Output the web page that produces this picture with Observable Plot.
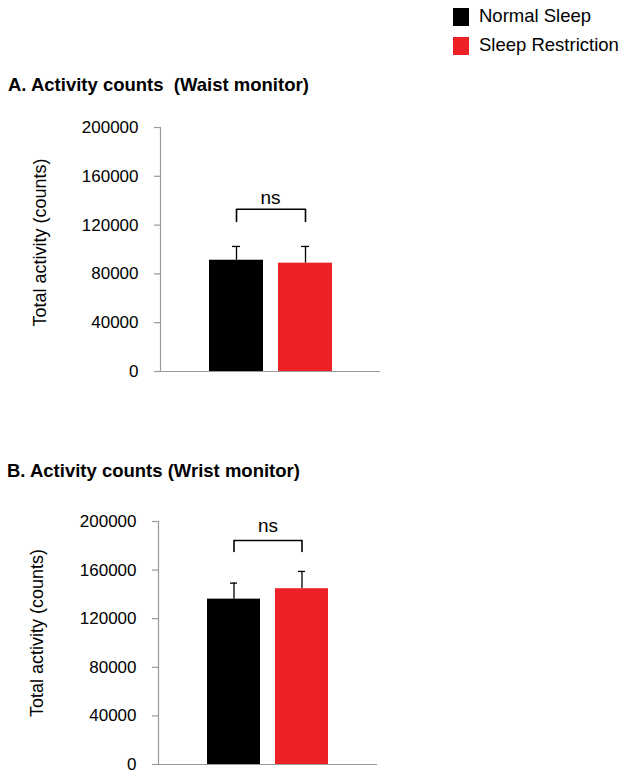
<!DOCTYPE html>
<html>
<head>
<meta charset="utf-8">
<script src="https://cdn.jsdelivr.net/npm/d3@7"></script>
<script src="https://cdn.jsdelivr.net/npm/@observablehq/plot@0.6"></script>
<style>
  html, body { margin: 0; padding: 0; background: #fff; }
  #page { position: relative; width: 624px; height: 781px; overflow: hidden; font-family: "Liberation Sans", Arial, sans-serif; color: #000; }
  .title { position: absolute; font-weight: bold; font-size: 18.5px; white-space: nowrap; line-height: 1; }
  .legend { position: absolute; left: 453px; top: 6px; }
  .legend .item { position: relative; height: 29px; font-size: 18.5px; white-space: nowrap; }
  .legend .sw { position: absolute; left: 0; top: 2px; width: 16px; height: 18px; }
  .legend .lab { position: absolute; left: 26px; top: 1px; line-height: 1; }
</style>
</head>
<body>
<div id="page"></div>
<script>
// ---- data ----
const groups = ["Normal Sleep", "Sleep Restriction"];
const groupColors = ["#000000", "#ec2227"];
const yTicks = [0, 40000, 80000, 120000, 160000, 200000];
const yLabel = "Total activity (counts)";

const titleA = "A. Activity counts\u00a0\u00a0(Waist monitor)";
const waistMean = [91200, 88800];
const waistSem = [11300, 13700];
const waistBracket = [123000, 133000]; // leg bottom, bracket top
const waistNsY = 137700;

const titleB = "B. Activity counts (Wrist monitor)";
const wristMean = [136100, 144700];
const wristSem = [13200, 14200];
const wristBracket = [175400, 184400];
const wristNsY = 191200;

const sigLabel = "ns";

// ---- page ----
const page = document.getElementById("page");

function addTitle(text, left, top) {
  const d = document.createElement("div");
  d.className = "title";
  d.textContent = text;
  d.style.left = left + "px";
  d.style.top = top + "px";
  page.appendChild(d);
}

// legend
const leg = document.createElement("div");
leg.className = "legend";
groups.forEach((g, i) => {
  const it = document.createElement("div");
  it.className = "item";
  const sw = document.createElement("div");
  sw.className = "sw";
  sw.style.background = groupColors[i];
  const lab = document.createElement("div");
  lab.className = "lab";
  lab.textContent = g;
  it.appendChild(sw); it.appendChild(lab);
  leg.appendChild(it);
});
page.appendChild(leg);

function panel(means, sems, bracket, nsY, opts) {
  const data = groups.map((g, i) => ({group: g, value: means[i], top: means[i] + sems[i]}));
  const br = [
    {x: groups[0], y: bracket[0]},
    {x: groups[0], y: bracket[1]},
    {x: groups[1], y: bracket[1]},
    {x: groups[1], y: bracket[0]}
  ];
  const chart = Plot.plot({
    width: 400,
    height: opts.height,
    marginTop: opts.mt,
    marginBottom: opts.mb,
    marginLeft: opts.ml,
    marginRight: opts.mr,
    style: {fontFamily: "'Liberation Sans', Arial, sans-serif", fontSize: "17px", background: "transparent", color: "#000", overflow: "visible"},
    x: {domain: groups, paddingInner: 0.22, paddingOuter: 0.7, axis: null},
    y: {domain: [0, 200000]},
    color: {domain: groups, range: groupColors},
    marks: [
      Plot.ruleX(data, {x: "group", y1: "value", y2: "top", stroke: "#000", strokeWidth: 1.3}),
      Plot.tickY(data, {x: "group", y: "top", stroke: "#000", strokeWidth: 1.3, insetLeft: 23, insetRight: 23}),
      Plot.barY(data, {x: "group", y: "value", fill: "group"}),
      Plot.ruleY([0], {stroke: "#9a9a9a", strokeWidth: 1.2}),
      Plot.frame({anchor: "left", stroke: "#9a9a9a", strokeWidth: 1.2}),
      Plot.axisY({ticks: yTicks, tickFormat: d3.format("d"), tickSize: 6, tickPadding: 16, label: null, stroke: "#9a9a9a", strokeWidth: 1.2, fontSize: 17}),
      Plot.line(br, {x: "x", y: "y", stroke: "#000", strokeWidth: 1.6}),
      Plot.text([sigLabel], {text: d => d, y: () => nsY, frameAnchor: "middle", lineAnchor: "bottom", fontSize: 19}),
      Plot.text([yLabel], {text: d => d, frameAnchor: "left", textAnchor: "middle", rotate: -90, dx: opts.labDx, dy: opts.labDy, fontSize: 18})
    ]
  });
  chart.style.position = "absolute";
  chart.style.left = "0px";
  chart.style.top = opts.top + "px";
  page.appendChild(chart);
}

addTitle(titleA, 8, 76);
panel(waistMean, waistSem, waistBracket, waistNsY, {top: 110, height: 290, mt: 17, mb: 29, ml: 160, mr: 20, labDx: -120, labDy: -7});

addTitle(titleB, 7, 462);
panel(wristMean, wristSem, wristBracket, wristNsY, {top: 500, height: 281, mt: 21, mb: 17, ml: 158, mr: 23, labDx: -121, labDy: -10});
</script>
</body>
</html>
